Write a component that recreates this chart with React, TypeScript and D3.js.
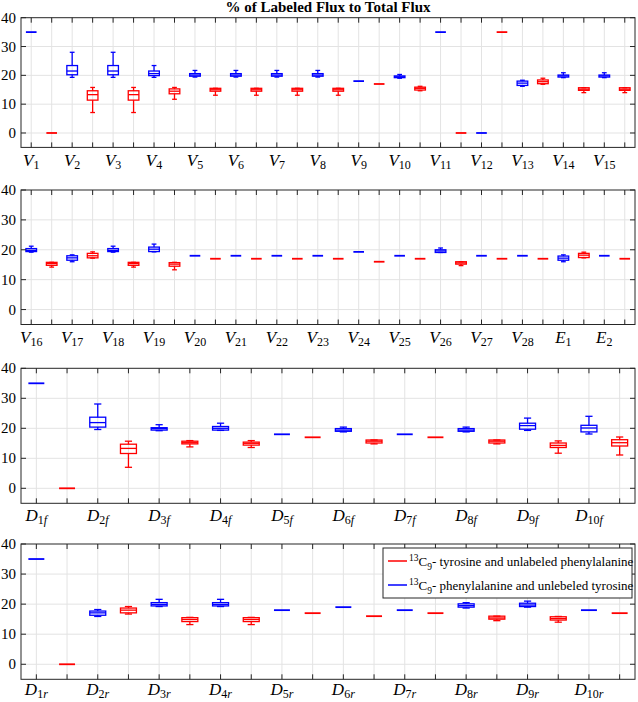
import React from "react";
import * as d3 from "d3";

// ---- data: [lowWhisker, q1, median, q3, highWhisker] ----
const panel1Labels = ["V_1","V_2","V_3","V_4","V_5","V_6","V_7","V_8","V_9","V_10","V_11","V_12","V_13","V_14","V_15"];
const panel1Blue = [
  [35,35,35,35,35],[19.3,20.2,21.5,23.4,28.0],[19.3,20.2,21.5,23.4,28.0],[19.3,19.9,20.6,21.5,23.4],
  [19.4,19.7,20.1,20.6,21.7],[19.4,19.7,20.1,20.6,21.7],[19.4,19.7,20.1,20.6,21.7],[19.4,19.7,20.1,20.6,21.7],
  [18,18,18,18,18],[19.0,19.2,19.5,19.8,20.3],[35,35,35,35,35],[0,0,0,0,0],
  [16.2,16.5,17.3,18.0,18.3],[19.2,19.4,19.8,20.1,20.9],[19.2,19.4,19.8,20.1,20.9],
];
const panel1Red = [
  [0,0,0,0,0],[7.1,11.4,13.3,14.65,15.8],[7.1,11.4,13.3,14.65,15.8],[11.7,13.6,14.5,15.3,15.8],
  [13.1,14.5,15.0,15.5,15.5],[13.1,14.5,15.0,15.5,15.5],[13.1,14.5,15.0,15.5,15.5],[13.1,14.5,15.0,15.5,15.5],
  [17,17,17,17,17],[14.65,14.9,15.5,15.9,16.2],[0,0,0,0,0],[35,35,35,35,35],
  [16.9,17.1,17.8,18.4,19.0],[14.0,14.8,15.2,15.7,15.7],[14.0,14.8,15.2,15.7,15.7],
];

const panel2Labels = ["V_16","V_17","V_18","V_19","V_20","V_21","V_22","V_23","V_24","V_25","V_26","V_27","V_28","E_1","E_2"];
const panel2Blue = [
  [19.2,19.4,19.8,20.4,21.2],[16.0,16.5,17.3,18.0,18.3],[19.2,19.4,19.8,20.4,21.2],[19.3,19.4,20.2,20.9,21.9],
  [18,18,18,18,18],[18,18,18,18,18],[18,18,18,18,18],[18,18,18,18,18],
  [19.3,19.3,19.3,19.3,19.3],[18,18,18,18,18],[19.1,19.1,19.6,20.0,20.6],[18,18,18,18,18],
  [18,18,18,18,18],[16.0,16.5,17.2,17.9,18.3],[18,18,18,18,18],
];
const panel2Red = [
  [14.2,14.8,15.4,15.8,15.8],[17.2,17.3,18.0,18.8,19.3],[14.2,14.8,15.4,15.8,15.8],[13.3,14.5,15.2,15.7,15.8],
  [17,17,17,17,17],[17,17,17,17,17],[17,17,17,17,17],[17,17,17,17,17],
  [16,16,16,16,16],[17,17,17,17,17],[14.7,15.2,15.6,16.0,16.0],[17,17,17,17,17],
  [17,17,17,17,17],[17.3,17.4,18.2,18.8,19.2],[17,17,17,17,17],
];

const panel3Labels = ["D_1f","D_2f","D_3f","D_4f","D_5f","D_6f","D_7f","D_8f","D_9f","D_10f"];
const panel3Blue = [
  [35,35,35,35,35],[19.6,20.4,21.9,23.7,28.1],[19.2,19.4,19.9,20.2,21.2],[19.3,19.4,20.0,20.6,21.7],
  [18,18,18,18,18],[18.8,19.0,19.4,19.9,20.4],[18,18,18,18,18],[18.8,19.0,19.4,19.9,20.4],
  [19.3,19.7,20.9,21.7,23.4],[18.1,18.8,20.1,21.0,24.0],
];
const panel3Red = [
  [0,0,0,0,0],[7.0,11.6,13.3,14.7,15.7],[13.8,14.8,15.2,15.7,15.9],[13.6,14.4,15.0,15.4,15.9],
  [17,17,17,17,17],[14.8,15.1,15.7,16.1,16.1],[17,17,17,17,17],[14.8,15.1,15.7,16.1,16.1],
  [11.7,13.6,14.3,15.1,15.8],[11.1,14.1,15.2,16.2,17.1],
];

const panel4Labels = ["D_1r","D_2r","D_3r","D_4r","D_5r","D_6r","D_7r","D_8r","D_9r","D_10r"];
const panel4Blue = [
  [35,35,35,35,35],[15.9,16.3,17.1,17.7,18.2],[19.2,19.4,19.9,20.5,21.6],[19.2,19.4,19.9,20.5,21.6],
  [18,18,18,18,18],[19,19,19,19,19],[18,18,18,18,18],[18.7,19.0,19.5,20.1,20.5],
  [19.0,19.2,19.7,20.3,21.0],[18,18,18,18,18],
];
const panel4Red = [
  [0,0,0,0,0],[16.7,17.1,18.0,18.7,19.2],[13.2,14.2,14.9,15.5,15.6],[13.2,14.2,14.9,15.5,15.6],
  [17,17,17,17,17],[16,16,16,16,16],[17,17,17,17,17],[14.5,15.0,15.4,16.0,16.0],
  [14.0,14.7,15.2,15.8,15.9],[17,17,17,17,17],
];

const yTicks = [0, 10, 20, 30, 40];
const titleText = "% of Labeled Flux to Total Flux";
const legendRed = "- tyrosine and unlabeled phenylalanine";
const legendBlue = "- phenylalanine and unlebeled tyrosine";

const BLUE = "#0000ff";
const RED = "#ff0000";
const AXIS = "#262626";
const GRID = "#e3e3e3";
const SERIF = "'Liberation Serif', 'Times New Roman', serif";

const panels = [
  { labels: panel1Labels, blue: panel1Blue, red: panel1Red, top: 17.7, bottom: 147.4, lab: 18.5 },
  { labels: panel2Labels, blue: panel2Blue, red: panel2Red, top: 190, bottom: 324.5, lab: 18 },
  { labels: panel3Labels, blue: panel3Blue, red: panel3Red, top: 368.3, bottom: 503.3, lab: 17.5 },
  { labels: panel4Labels, blue: panel4Blue, red: panel4Red, top: 544, bottom: 679.3, lab: 15.5 },
];
const LEFT = 21;
const RIGHT = 635;

function Label({ x, y, label }: { x: number; y: number; label: string }) {
  const [main, sub] = label.split("_");
  const digits = sub.replace(/[a-z]/g, "");
  const letters = sub.replace(/[0-9]/g, "");
  return (
    <text x={x} y={y} textAnchor="middle" fontFamily={SERIF} fontSize={17} fill="#000">
      <tspan fontStyle="italic">{main}</tspan>
      <tspan dy={3.5} fontSize={12}>{digits}</tspan>
      {letters && <tspan fontSize={12} fontStyle="italic">{letters}</tspan>}
    </text>
  );
}

function Box({ x, w, stats, y, color }: { x: number; w: number; stats: number[]; y: d3.ScaleLinear<number, number>; color: string }) {
  const [lo, q1, med, q3, hi] = stats;
  const cap = w * 0.45;
  const sw = 1.3;
  if (lo === hi) {
    return <line x1={x - w / 2} x2={x + w / 2} y1={y(med)} y2={y(med)} stroke={color} strokeWidth={1.8} />;
  }
  return (
    <g stroke={color} strokeWidth={sw} fill="none">
      <line x1={x} x2={x} y1={y(hi)} y2={y(q3)} />
      <line x1={x} x2={x} y1={y(q1)} y2={y(lo)} />
      <line x1={x - cap / 2} x2={x + cap / 2} y1={y(hi)} y2={y(hi)} />
      <line x1={x - cap / 2} x2={x + cap / 2} y1={y(lo)} y2={y(lo)} />
      <rect x={x - w / 2} y={y(q3)} width={w} height={Math.max(0.5, y(q1) - y(q3))} />
      <line x1={x - w / 2} x2={x + w / 2} y1={y(med)} y2={y(med)} />
    </g>
  );
}

function Panel({ p }: { p: (typeof panels)[number] }) {
  const n = p.labels.length * 2;
  const x = d3.scaleLinear().domain([0.5, n + 0.5]).range([LEFT, RIGHT]);
  const y = d3.scaleLinear().domain([-5, 40]).range([p.bottom, p.top]);
  const step = x(2) - x(1);
  const bw = step * 0.52;
  const slots = d3.range(1, n + 1);
  return (
    <g>
      {slots.map((s) => (
        <line key={"vg" + s} x1={x(s)} x2={x(s)} y1={p.top} y2={p.bottom} stroke={GRID} strokeWidth={1} />
      ))}
      {yTicks.filter((t) => t < 40).map((t) => (
        <line key={"hg" + t} x1={LEFT} x2={RIGHT} y1={y(t)} y2={y(t)} stroke={GRID} strokeWidth={1} />
      ))}
      {p.labels.map((lab, i) => (
        <g key={"b" + i}>
          <Box x={x(2 * i + 1)} w={bw} stats={p.blue[i]} y={y} color={BLUE} />
          <Box x={x(2 * i + 2)} w={bw} stats={p.red[i]} y={y} color={RED} />
        </g>
      ))}
      <rect x={LEFT} y={p.top} width={RIGHT - LEFT} height={p.bottom - p.top} fill="none" stroke={AXIS} strokeWidth={1} />
      {slots.map((s) => (
        <g key={"xt" + s} stroke={AXIS} strokeWidth={1}>
          <line x1={x(s)} x2={x(s)} y1={p.bottom} y2={p.bottom - 5} />
          <line x1={x(s)} x2={x(s)} y1={p.top} y2={p.top + 5} />
        </g>
      ))}
      {yTicks.map((t) => (
        <g key={"yt" + t}>
          <line x1={LEFT} x2={LEFT + 5} y1={y(t)} y2={y(t)} stroke={AXIS} />
          <line x1={RIGHT} x2={RIGHT - 5} y1={y(t)} y2={y(t)} stroke={AXIS} />
          <text x={16} y={y(t) + 5} textAnchor="end" fontFamily={SERIF} fontSize={15} fill="#000">{t}</text>
        </g>
      ))}
      {p.labels.map((lab, i) => (
        <Label key={"l" + i} x={x(2 * i + 1)} y={p.bottom + p.lab} label={lab} />
      ))}
    </g>
  );
}

export default function App() {
  const lx = 383, ly = 548, lw = 249, lh = 50;
  return (
    <svg width={638} height={702} style={{ position: "absolute", left: 0, top: 0, background: "#fff" }}>
      <rect width={638} height={702} fill="#fff" />
      <text x={328} y={12} textAnchor="middle" fontFamily={SERIF} fontWeight="bold" fontSize={15}>{titleText}</text>
      {panels.map((p, i) => <Panel key={i} p={p} />)}
      <g>
        <rect x={lx} y={ly} width={lw} height={lh} fill="#fff" stroke={AXIS} strokeWidth={1} />
        <line x1={388} x2={407} y1={561} y2={561} stroke={RED} strokeWidth={1.5} />
        <text x={409} y={566} fontFamily={SERIF} fontSize={13}>
          <tspan dy={-5} fontSize={9.5}>13</tspan><tspan dy={5}>C</tspan><tspan dy={4} fontSize={9.5}>9</tspan><tspan dy={-4}>{legendRed}</tspan>
        </text>
        <line x1={388} x2={407} y1={585} y2={585} stroke={BLUE} strokeWidth={1.5} />
        <text x={409} y={590} fontFamily={SERIF} fontSize={13}>
          <tspan dy={-5} fontSize={9.5}>13</tspan><tspan dy={5}>C</tspan><tspan dy={4} fontSize={9.5}>9</tspan><tspan dy={-4}>{legendBlue}</tspan>
        </text>
      </g>
    </svg>
  );
}
